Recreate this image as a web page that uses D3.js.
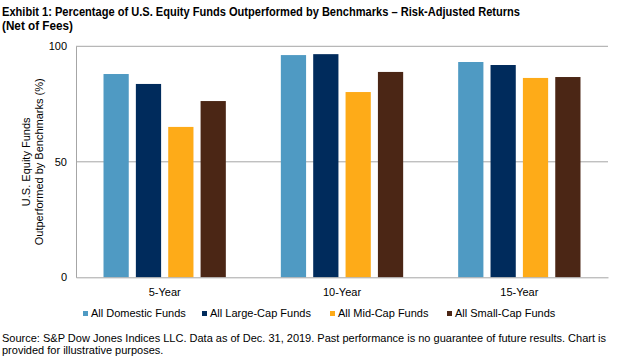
<!DOCTYPE html>
<html><head><meta charset="utf-8">
<script src="https://cdn.jsdelivr.net/npm/d3@7/dist/d3.min.js"></script>
<style>
body{margin:0;background:#fff;}
svg text{font-family:"Liberation Sans",Arial,sans-serif;fill:#000;}
</style></head>
<body><svg id="c" width="629" height="358"></svg>
<script>
const categories = ["5-Year", "10-Year", "15-Year"];
const seriesNames = ["All Domestic Funds", "All Large-Cap Funds", "All Mid-Cap Funds", "All Small-Cap Funds"];
const domesticValues = [88.0, 96.2, 93.2];
const largeCapValues = [83.7, 96.6, 91.9];
const midCapValues = [65.1, 80.2, 86.3];
const smallCapValues = [76.3, 88.9, 86.7];
const yTicks = [0, 50, 100];
const colors = ["#4F9AC3", "#002B5C", "#FEAB18", "#4B2615"];

const seriesValues = [domesticValues, largeCapValues, midCapValues, smallCapValues];
const svg = d3.select("#c");
const L = 76, R = 608, T = 46.3, B = 277.3;

const x0 = d3.scaleBand().domain(categories).range([L, R]).padding(0);
const x1 = d3.scaleBand().domain(seriesNames).range([0, x0.bandwidth()]).paddingInner(0.22).paddingOuter(0.85);
const y = d3.scaleLinear().domain([0, 100]).range([B, T]);

// gridlines
svg.append("g").selectAll("line").data(yTicks.filter(d => d > 0)).join("line")
  .attr("x1", L).attr("x2", R).attr("y1", d => y(d)).attr("y2", d => y(d))
  .attr("stroke", "#a6a6a6").attr("stroke-width", 1);

// bars
const groups = svg.append("g").selectAll("g").data(categories).join("g")
  .attr("transform", d => `translate(${x0(d)},0)`);
groups.selectAll("rect").data((c, ci) => seriesNames.map((s, si) => ({s, si, v: seriesValues[si][ci]}))).join("rect")
  .attr("x", d => x1(d.s)).attr("width", x1.bandwidth())
  .attr("y", d => y(d.v)).attr("height", d => B - y(d.v))
  .attr("fill", d => colors[d.si]);

// axes
const yAxis = svg.append("g").attr("transform", `translate(${L},0)`)
  .call(d3.axisLeft(y).tickValues(yTicks).tickSize(0).tickPadding(9));
yAxis.select(".domain").attr("stroke", "#a6a6a6");
yAxis.selectAll("text").style("font-size", "11px").style("font-family", "Liberation Sans, Arial, sans-serif").attr("fill", "#000");

const xAxis = svg.append("g").attr("transform", `translate(0,${B})`)
  .call(d3.axisBottom(x0).tickSize(0).tickPadding(11));
xAxis.select(".domain").attr("stroke", "#a6a6a6");
xAxis.selectAll("text").style("font-size", "11px").style("font-family", "Liberation Sans, Arial, sans-serif").attr("fill", "#000");

// y label
const yl = svg.append("text").attr("transform", `translate(30,${(T + B) / 2}) rotate(-90)`)
  .attr("text-anchor", "middle").style("font-size", "11px");
yl.append("tspan").attr("x", 0).attr("dy", 0).text("U.S. Equity Funds");
yl.append("tspan").attr("x", 0).attr("dy", 12.5).text("Outperformed by Benchmarks (%)");

// title
svg.append("text").attr("x", 2).attr("y", 15.5).style("font-size", "12.5px").style("font-weight", "bold")
  .attr("textLength", 518).attr("lengthAdjust", "spacingAndGlyphs")
  .text("Exhibit 1: Percentage of U.S. Equity Funds Outperformed by Benchmarks – Risk-Adjusted Returns");
svg.append("text").attr("x", 2).attr("y", 29.5).style("font-size", "12.5px").style("font-weight", "bold")
  .attr("textLength", 71).attr("lengthAdjust", "spacingAndGlyphs")
  .text("(Net of Fees)");

// legend
const legendX = [83, 202, 330, 447];
const lg = svg.append("g").selectAll("g").data(seriesNames).join("g")
  .attr("transform", (d, i) => `translate(${legendX[i]},317)`);
lg.append("rect").attr("x", 0).attr("y", -6).attr("width", 5).attr("height", 5).attr("fill", (d, i) => colors[i]);
lg.append("text").attr("x", 8).attr("y", 0).style("font-size", "11px").text(d => d);

// source
svg.append("text").attr("x", 2).attr("y", 342).style("font-size", "11px")
  .attr("textLength", 604).attr("lengthAdjust", "spacingAndGlyphs")
  .text("Source: S&P Dow Jones Indices LLC. Data as of Dec. 31, 2019. Past performance is no guarantee of future results. Chart is");
svg.append("text").attr("x", 2).attr("y", 354).style("font-size", "11px")
  .text("provided for illustrative purposes.");
</script></body></html>
